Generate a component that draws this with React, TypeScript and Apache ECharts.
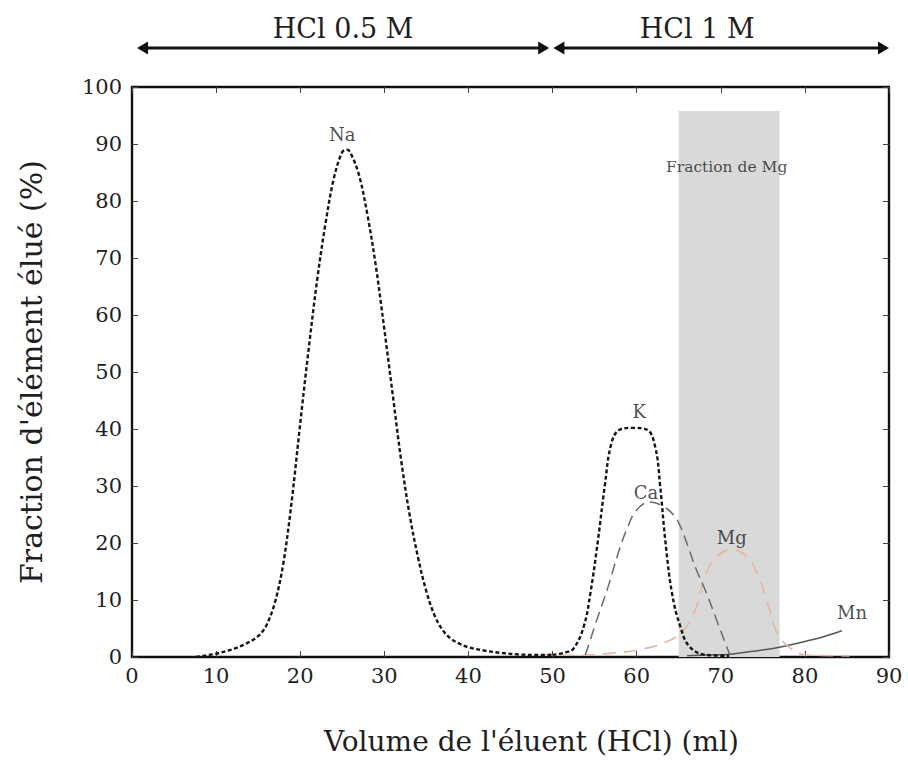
import React, { useEffect, useRef } from "react";
import * as echarts from "echarts";

// ---- Data (x: volume of eluent in ml, y: fraction eluted in %) ----
const naData: number[][] = [
  [7.6, 0], [8.5, 0.2], [9.5, 0.45], [10.5, 0.75], [11.5, 1.15], [12.5, 1.65], [13.5, 2.3],
  [14.5, 3.1], [15.3, 4.1], [16, 5.6], [17, 9.6], [18, 16.5], [19, 27.5], [20, 41], [21, 54],
  [22, 66], [23, 76], [24, 84], [25, 88.6], [25.6, 89], [26, 88.4], [27, 84.5], [28, 77.5],
  [29, 68.5], [30, 57.5], [31, 46], [32, 34.5], [33, 25], [34, 17.5], [35, 11.5], [36, 7.2],
  [37, 4.6], [38, 3.1], [39, 2.3], [40, 1.7], [42, 1.1], [44, 0.7], [46, 0.45], [48, 0.35],
  [50, 0.4],
];
const kData: number[][] = [
  [50, 0.35], [51.5, 0.8], [52.5, 1.5], [53.7, 5.3], [54.5, 11.2], [55.4, 20.5], [56.2, 29.9],
  [57, 37.5], [58, 39.9], [59.5, 40.2], [61.2, 39.9], [62.2, 36.9], [62.8, 29.9], [63.4, 20.5],
  [64.2, 11.2], [65.2, 5.3], [66.3, 1.8], [68.3, 0.35], [71, 0.2],
];
const caData: number[][] = [
  [53.9, 0.35], [55.4, 7.1], [56.6, 12.3], [57.8, 18.2], [58.8, 22.3], [60, 25.8], [61.6, 27.2],
  [63.2, 26.4], [64.4, 24.9], [65.2, 22.9], [66.1, 19.4], [67.1, 15.3], [68.3, 11.2],
  [69.5, 6.5], [70.7, 1.8], [71.1, 0.35],
];
const mgData: number[][] = [
  [48.5, 0.35], [52.5, 0.3], [56.4, 0.6], [60.4, 1.3], [63.6, 2.7], [65.6, 4.7], [67.1, 8.8],
  [68.1, 14.1], [69.5, 17.6], [71.3, 18.8], [73.1, 17.6], [74.5, 14.1], [75.7, 8.8],
  [76.7, 4.2], [78.3, 1.5], [80.2, 0.35], [85.3, 0.2],
];
const mnData: number[][] = [
  [66, 0.2], [68.3, 0.35], [71.1, 0.5], [73.5, 0.95], [76.2, 1.5], [78.2, 2.1], [80.2, 2.8],
  [82.3, 3.6], [84.4, 4.6],
];

// Curve labels
const curveLabels = [
  { name: "Na", value: [25.0, 91.6] },
  { name: "K", value: [60.3, 43.1] },
  { name: "Ca", value: [61.1, 28.9] },
  { name: "Mg", value: [71.3, 21.0] },
  { name: "Mn", value: [85.6, 7.8] },
];
const bandLabel = { name: "Fraction de Mg", value: [70.7, 85.9] };

// Mg fraction band [xStart, xEnd, yTop]
const mgBand = [65, 77, 95.8];

// Eluent phases (arrows above plot)
const phases = [
  { label: "HCl 0.5 M", from: 0.6, to: 49.6, textAt: 25.1 },
  { label: "HCl 1 M", from: 50.1, to: 90, textAt: 67.2 },
];

const xTicks = { min: 0, max: 90, interval: 10 };
const yTicks = { min: 0, max: 100, interval: 10 };

const FONT = "DejaVu Serif";
const TXT = "#1e1e1e";

export default function App() {
  const ref = useRef<HTMLDivElement>(null);

  useEffect(() => {
    document.body.style.margin = "0";
    if (!ref.current) return;
    const chart = echarts.init(ref.current, undefined, { renderer: "svg" });

    const axisLine = { show: true, onZero: false, lineStyle: { color: "#111", width: 2.4 } };
    const axisTick = { show: true, inside: true, length: 6, lineStyle: { color: "#444", width: 1 } };

    const option: any = {
      animation: false,
      backgroundColor: "#ffffff",
      grid: { left: 132, right: 19, top: 87, bottom: 106, containLabel: false },
      xAxis: [
        {
          type: "value",
          ...xTicks,
          position: "bottom",
          axisLine,
          axisTick,
          splitLine: { show: false },
          axisLabel: { fontFamily: FONT, fontSize: 21, color: TXT, margin: 8 },
          name: "Volume de l'éluent (HCl) (ml)",
          nameLocation: "middle",
          nameGap: 70,
          nameTextStyle: { fontFamily: FONT, fontSize: 28, color: TXT, padding: [0, 0, 0, 42] },
        },
        {
          type: "value",
          ...xTicks,
          position: "top",
          axisLine,
          axisTick,
          splitLine: { show: false },
          axisLabel: { show: false },
        },
      ],
      yAxis: [
        {
          type: "value",
          ...yTicks,
          position: "left",
          axisLine,
          axisTick,
          splitLine: { show: false },
          axisLabel: { fontFamily: FONT, fontSize: 21, color: TXT, margin: 10 },
          name: "Fraction d'élément élué (%)",
          nameLocation: "middle",
          nameGap: 86,
          nameTextStyle: { fontFamily: FONT, fontSize: 30, color: TXT },
        },
        {
          type: "value",
          ...yTicks,
          position: "right",
          axisLine,
          axisTick,
          splitLine: { show: false },
          axisLabel: { show: false },
        },
      ],
      series: [
        {
          name: "band",
          type: "line",
          data: [[mgBand[0], 0]],
          showSymbol: false,
          symbol: "none",
          z: 1,
          lineStyle: { width: 0 },
          markArea: {
            silent: true,
            itemStyle: { color: "#d9d9d9" },
            data: [[{ coord: [mgBand[0], 0] }, { coord: [mgBand[1], mgBand[2]] }]],
          },
        },
        {
          name: "Mn",
          type: "line",
          data: mnData,
          smooth: 0.4,
          symbol: "none",
          z: 3,
          lineStyle: { color: "#555", width: 1.5, type: "solid" },
        },
        {
          name: "Mg",
          type: "line",
          data: mgData,
          smooth: 0.4,
          symbol: "none",
          z: 3,
          lineStyle: { color: "#e8b49c", width: 1.6, type: [13, 8] },
        },
        {
          name: "Ca",
          type: "line",
          data: caData,
          smooth: 0.4,
          symbol: "none",
          z: 3,
          lineStyle: { color: "#6a6a6a", width: 1.5, type: [11, 6] },
        },
        {
          name: "K",
          type: "line",
          data: kData,
          smooth: 0.4,
          symbol: "none",
          z: 4,
          lineStyle: { color: "#151515", width: 2.4, type: [4, 2.5] },
        },
        {
          name: "Na",
          type: "line",
          data: naData,
          smooth: 0.35,
          symbol: "none",
          z: 4,
          lineStyle: { color: "#151515", width: 2.4, type: [4, 2.5] },
        },
        {
          name: "labels",
          type: "scatter",
          data: curveLabels,
          symbolSize: 1,
          z: 5,
          itemStyle: { color: "rgba(0,0,0,0)" },
          label: {
            show: true,
            position: "inside",
            formatter: "{b}",
            fontFamily: FONT,
            fontSize: 18,
            color: TXT,
          },
        },
        {
          name: "bandLabel",
          type: "scatter",
          data: [bandLabel],
          symbolSize: 1,
          z: 5,
          itemStyle: { color: "rgba(0,0,0,0)" },
          label: {
            show: true,
            position: "inside",
            formatter: "{b}",
            fontFamily: FONT,
            fontSize: 15.5,
            color: TXT,
          },
        },
      ],
    };
    chart.setOption(option);

    // Arrows above the plot, positioned by the x axis scale
    const arrowY = 48;
    const textY = 28;
    const head = 11;
    const half = 6.5;
    const elements: any[] = [];
    phases.forEach((p) => {
      const x1 = chart.convertToPixel({ xAxisIndex: 0 }, p.from) as number;
      const x2 = chart.convertToPixel({ xAxisIndex: 0 }, p.to) as number;
      const xt = chart.convertToPixel({ xAxisIndex: 0 }, p.textAt) as number;
      elements.push({
        type: "line",
        shape: { x1: x1 + head - 1, y1: arrowY, x2: x2 - head + 1, y2: arrowY },
        style: { stroke: "#111", lineWidth: 3 },
      });
      elements.push({
        type: "polygon",
        shape: { points: [[x1, arrowY], [x1 + head, arrowY - half], [x1 + head, arrowY + half]] },
        style: { fill: "#111" },
      });
      elements.push({
        type: "polygon",
        shape: { points: [[x2, arrowY], [x2 - head, arrowY - half], [x2 - head, arrowY + half]] },
        style: { fill: "#111" },
      });
      elements.push({
        type: "text",
        x: xt,
        y: textY,
        style: {
          text: p.label,
          fontFamily: FONT,
          fontSize: 27,
          fill: TXT,
          align: "center",
          verticalAlign: "middle",
        },
      });
    });
    chart.setOption({ graphic: elements });

    return () => chart.dispose();
  }, []);

  return <div ref={ref} style={{ width: 908, height: 763 }} />;
}
